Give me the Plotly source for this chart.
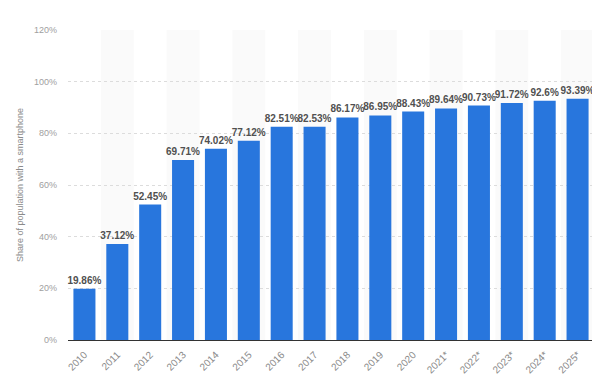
import plotly.graph_objects as go

years = ["2010", "2011", "2012", "2013", "2014", "2015", "2016", "2017", "2018",
         "2019", "2020", "2021*", "2022*", "2023*", "2024*", "2025*"]
share = [19.86, 37.12, 52.45, 69.71, 74.02, 77.12, 82.51, 82.53, 86.17,
         86.95, 88.43, 89.64, 90.73, 91.72, 92.6, 93.39]
labels = ["19.86%", "37.12%", "52.45%", "69.71%", "74.02%", "77.12%", "82.51%", "82.53%",
          "86.17%", "86.95%", "88.43%", "89.64%", "90.73%", "91.72%", "92.6%", "93.39%"]

fig = go.Figure()
fig.add_trace(go.Bar(
    x=list(range(len(years))), y=share, text=labels,
    textposition="outside", cliponaxis=False, constraintext="none",
    textfont=dict(family="Liberation Sans, Arial, sans-serif", size=10, color="#505050", weight="bold"),
    marker=dict(color="#2876dd", line=dict(width=0)),
    hoverinfo="skip",
))

shapes = []
for i in range(len(years)):
    if i % 2 == 1:
        shapes.append(dict(type="rect", xref="x", yref="paper", x0=i - 0.5, x1=i + 0.5,
                           y0=0, y1=1, fillcolor="#fafafa", line=dict(width=0), layer="below"))

# page body has an 8px default margin, so the figure is drawn 8px smaller and offset
fig.update_layout(
    width=592, height=383,
    margin=dict(l=60, r=6, t=22, b=51),
    paper_bgcolor="white", plot_bgcolor="white",
    bargap=0.33,
    showlegend=False,
    shapes=shapes,
    font=dict(family="Liberation Sans, Arial, sans-serif"),
    xaxis=dict(
        tickmode="array", tickvals=list(range(len(years))), ticktext=years,
        tickangle=-45, range=[-0.5, len(years) - 0.5],
        tickfont=dict(size=10, color="#8a8a8a"),
        showline=True, linecolor="#333333", linewidth=1,
        showgrid=False, ticks="", fixedrange=True, automargin=False,
        ticklabelstandoff=4,
    ),
    yaxis=dict(
        range=[0, 120], dtick=20, ticksuffix="%",
        tickfont=dict(size=9, color="#a0a0a0"),
        showgrid=True, gridcolor="#dcdcdc", griddash="dot", gridwidth=1,
        zeroline=False, showline=False, automargin=False,
        title=dict(text="Share of population with a smartphone",
                   font=dict(size=9, color="#8a8a8a"), standoff=8),
        ticklabelstandoff=10,
    ),
)

fig.write_html("out.html")
